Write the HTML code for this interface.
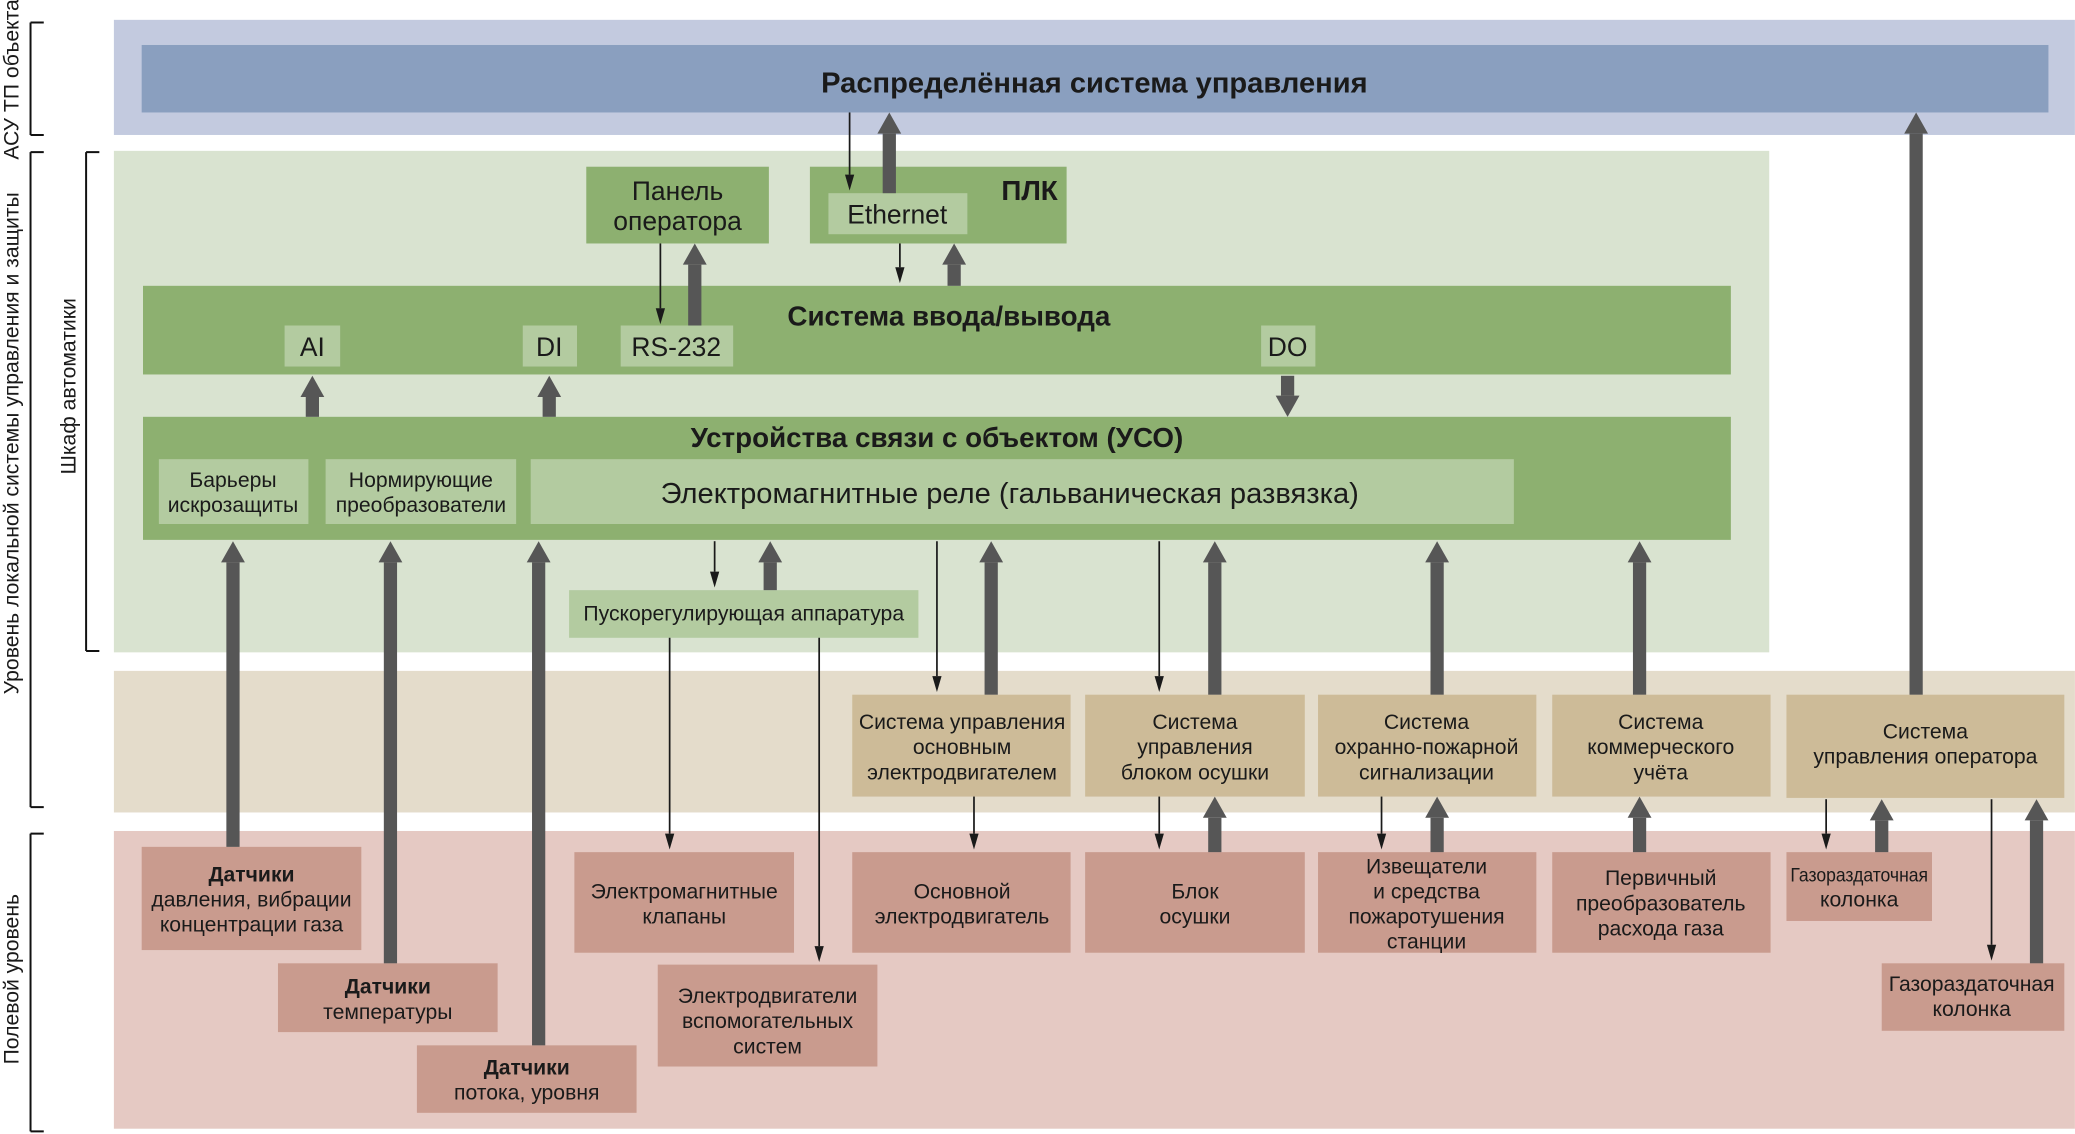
<!DOCTYPE html>
<html><head><meta charset="utf-8">
<style>
html,body{margin:0;padding:0;background:#fff;}
svg{display:block}
text{font-family:"Liberation Sans Narrow","Liberation Sans",sans-serif;fill:#1a1a1a;text-anchor:middle;}
.b{font-weight:bold}
</style></head><body>
<svg id="s" width="2075" height="1134" viewBox="0 0 1568 857" xmlns="http://www.w3.org/2000/svg">
<rect x="86" y="15" width="1482" height="87" fill="#c3cadf"/>
<rect x="107" y="34" width="1441" height="51" fill="#8a9fbf"/>
<text x="827" y="70" font-size="22" class="b">Распределённая система управления</text>
<rect x="86" y="114" width="1251" height="379" fill="#d9e3d0"/>
<rect x="86" y="507" width="1482" height="107" fill="#e4dccb"/>
<rect x="86" y="628" width="1482" height="225" fill="#e5c9c3"/>

<rect x="443" y="126" width="138" height="58" fill="#8db070"/>
<text x="512" y="151" font-size="20">Панель</text><text x="512" y="174" font-size="20">оператора</text>
<rect x="612" y="126" width="194" height="58" fill="#8db070"/>
<text x="778" y="151" font-size="21" class="b">ПЛК</text>
<rect x="626" y="146" width="105" height="31" fill="#b3cba0"/>
<text x="678" y="169" font-size="20">Ethernet</text>

<rect x="108" y="216" width="1200" height="67" fill="#8db070"/>
<text x="717" y="246" font-size="21" class="b">Система ввода/вывода</text>
<rect x="215" y="246" width="42" height="31" fill="#b3cba0"/><text x="236" y="269" font-size="20">AI</text>
<rect x="395" y="246" width="41" height="31" fill="#b3cba0"/><text x="415" y="269" font-size="20">DI</text>
<rect x="469" y="246" width="85" height="31" fill="#b3cba0"/><text x="511" y="269" font-size="20">RS-232</text>
<rect x="953" y="246" width="41" height="31" fill="#b3cba0"/><text x="973" y="269" font-size="20">DO</text>

<rect x="108" y="315" width="1200" height="93" fill="#8db070"/>
<text x="708" y="338" font-size="21" class="b">Устройства связи с объектом (УСО)</text>
<rect x="120" y="347" width="113" height="49" fill="#b3cba0"/>
<text x="176" y="368" font-size="16">Барьеры</text><text x="176" y="387" font-size="16">искрозащиты</text>
<rect x="246" y="347" width="144" height="49" fill="#b3cba0"/>
<text x="318" y="368" font-size="16">Нормирующие</text><text x="318" y="387" font-size="16">преобразователи</text>
<rect x="401" y="347" width="743" height="49" fill="#b3cba0"/>
<text x="763" y="380" font-size="22">Электромагнитные реле (гальваническая развязка)</text>

<rect x="430" y="446" width="264" height="36" fill="#b3cba0"/>
<text x="562" y="469" font-size="16">Пускорегулирующая аппаратура</text>

<g fill="#cdbb98">
<rect x="644" y="525" width="165" height="77"/><rect x="820" y="525" width="166" height="77"/>
<rect x="996" y="525" width="165" height="77"/><rect x="1173" y="525" width="165" height="77"/>
<rect x="1350" y="525" width="210" height="78"/>
</g>
<g font-size="16">
<text x="727" y="551">Система управления</text><text x="727" y="570">основным</text><text x="727" y="589">электродвигателем</text>
<text x="903" y="551">Система</text><text x="903" y="570">управления</text><text x="903" y="589">блоком осушки</text>
<text x="1078" y="551">Система</text><text x="1078" y="570">охранно-пожарной</text><text x="1078" y="589">сигнализации</text>
<text x="1255" y="551">Система</text><text x="1255" y="570">коммерческого</text><text x="1255" y="589">учёта</text>
<text x="1455" y="558">Система</text><text x="1455" y="577">управления оператора</text>
</g>

<g fill="#c99b8e">
<rect x="107" y="640" width="166" height="78"/><rect x="210" y="728" width="166" height="52"/>
<rect x="315" y="790" width="166" height="51"/><rect x="434" y="644" width="166" height="76"/>
<rect x="497" y="729" width="166" height="77"/><rect x="644" y="644" width="165" height="76"/>
<rect x="820" y="644" width="166" height="76"/><rect x="996" y="644" width="165" height="76"/>
<rect x="1173" y="644" width="165" height="76"/><rect x="1350" y="644" width="110" height="52"/>
<rect x="1422" y="728" width="138" height="51"/>
</g>
<g font-size="16">
<text x="190" y="666" class="b">Датчики</text><text x="190" y="685">давления, вибрации</text><text x="190" y="704">концентрации газа</text>
<text x="293" y="751" class="b">Датчики</text><text x="293" y="770">температуры</text>
<text x="398" y="812" class="b">Датчики</text><text x="398" y="831">потока, уровня</text>
<text x="517" y="679">Электромагнитные</text><text x="517" y="698">клапаны</text>
<text x="580" y="758">Электродвигатели</text><text x="580" y="777">вспомогательных</text><text x="580" y="796">систем</text>
<text x="727" y="679">Основной</text><text x="727" y="698">электродвигатель</text>
<text x="903" y="679">Блок</text><text x="903" y="698">осушки</text>
<text x="1078" y="660">Извещатели</text><text x="1078" y="679">и средства</text><text x="1078" y="698">пожаротушения</text><text x="1078" y="717">станции</text>
<text x="1255" y="669">Первичный</text><text x="1255" y="688">преобразователь</text><text x="1255" y="707">расхода газа</text>
<text x="1405" y="666" font-size="15" textLength="104" lengthAdjust="spacingAndGlyphs">Газораздаточная</text><text x="1405" y="685">колонка</text>
<text x="1490" y="749">Газораздаточная</text><text x="1490" y="768">колонка</text>
</g>

<g stroke="#111" stroke-width="1.5" fill="none">
<path d="M23 17h10M23 17v85M23 102h10"/>
<path d="M23 115h10M23 115v495M23 610h10"/>
<path d="M65 115h10M65 115v377M65 492h10"/>
<path d="M23 630h10M23 630v225M23 855h10"/>
</g>
<g font-size="16">
<text transform="translate(14 60) rotate(-90)">АСУ ТП объекта</text>
<text transform="translate(14 335) rotate(-90)">Уровень локальной системы управления и защиты</text>
<text transform="translate(57 292) rotate(-90)">Шкаф автоматики</text>
<text transform="translate(14 740) rotate(-90)">Полевой уровень</text>
</g>
<g id="arrows"></g>
</svg>
<script>
var g=document.getElementById('arrows'),h='';
function thick(x,y1,y2){
 var d=y2<y1?1:-1, hy=y2+d*16;
 h+='<rect x="'+(x-5)+'" y="'+Math.min(y1,hy)+'" width="10" height="'+Math.abs(y1-hy)+'" fill="#565656"/>';
 h+='<polygon points="'+x+','+y2+' '+(x-9)+','+hy+' '+(x+9)+','+hy+'" fill="#565656"/>';
}
function thin(x,y1,y2){
 var d=y2<y1?1:-1, hy=y2+d*12;
 h+='<line x1="'+x+'" y1="'+y1+'" x2="'+x+'" y2="'+hy+'" stroke="#1a1a1a" stroke-width="1.3"/>';
 h+='<polygon points="'+x+','+y2+' '+(x-3.5)+','+hy+' '+(x+3.5)+','+hy+'" fill="#1a1a1a"/>';
}
thin(642,85,144);thick(672,146,85);
thin(680,184,214);thick(721,216,184);
thin(499,184,245);thick(525,246,184);
thick(236,315,284);thick(415,315,284);thick(973,284,315);
thick(176,640,409);thick(295,728,409);thick(407,790,409);
thin(540,409,444);thick(582,446,409);
thin(506,482,642);thin(619,482,727);
thin(708,409,523);thick(749,525,409);thin(736,602,642);
thin(876,409,523);thick(918,525,409);thin(876,602,642);thick(918,644,602);
thick(1086,525,409);thin(1044,602,642);thick(1086,644,602);
thick(1239,525,409);thick(1239,644,602);
thick(1448,525,85);thin(1380,604,642);thick(1422,644,604);thin(1505,604,726);thick(1539,728,604);
g.innerHTML=h;
</script>
</body></html>
